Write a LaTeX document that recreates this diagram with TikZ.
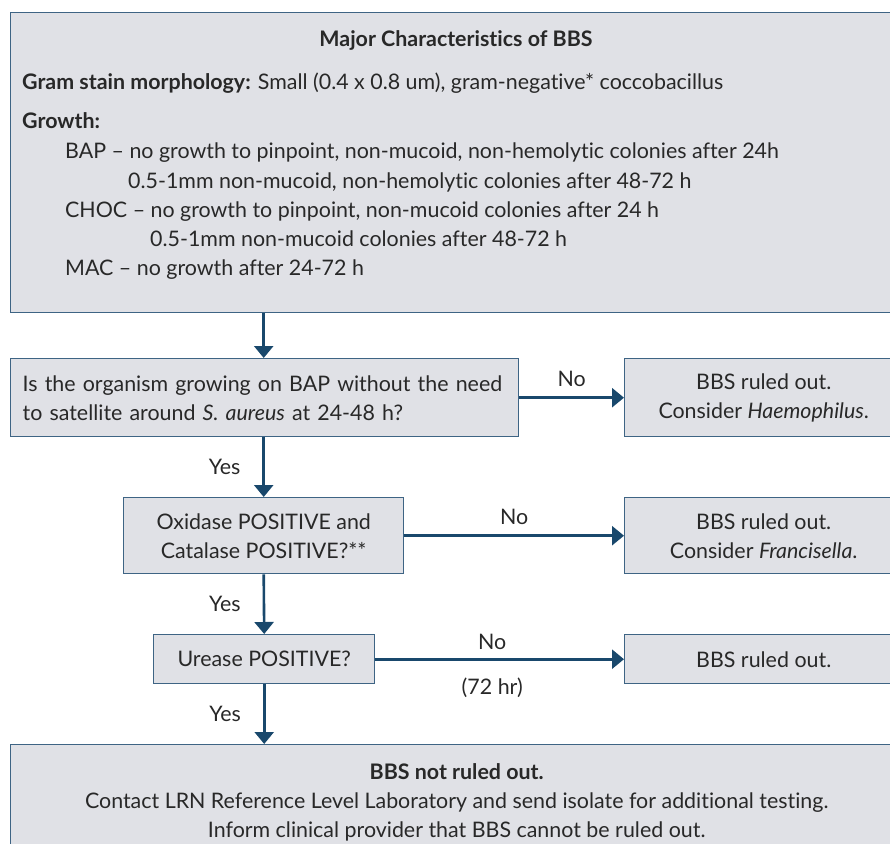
\documentclass[tikz,border=0pt]{standalone}
\usepackage{fontspec}
\setmainfont{Lato}[Ligatures=NoCommon]
\usetikzlibrary{arrows.meta,positioning}
\definecolor{bbsFill}{RGB}{224,225,230}
\definecolor{bbsEdge}{RGB}{62,100,132}
\definecolor{bbsArrow}{RGB}{25,72,108}
\definecolor{bbsText}{RGB}{40,40,40}
\newcommand{\bodyfont}{\fontsize{21.4}{29}\selectfont}

\begin{document}
\begin{tikzpicture}[x=1pt,y=-1pt,
  box/.style={draw=bbsEdge,fill=bbsFill,line width=1.4pt,text=bbsText,font=\bodyfont,anchor=north west},
  txt/.style={text=bbsText,font=\bodyfont,inner sep=0pt,anchor=base west},
  flow/.style={draw=bbsArrow,line width=2.6pt,-{Triangle[width=19pt,length=12pt]}},
  lbl/.style={text=bbsText,font=\bodyfont,inner sep=0pt}]
  \useasboundingbox (0,0) rectangle (890,843);
  \clip (0,0) rectangle (890,843);
  % characteristics box
  \node[box,minimum width=892pt,minimum height=300pt] (chars) at (10,12) {};
  \node[txt,anchor=base,font=\bodyfont\bfseries] (title) at (456,46) {Major Characteristics of BBS};
  \node[txt] (gram) at (22,89) {\textbf{Gram stain morphology:} Small (0.4 x 0.8 um), gram-negative* coccobacillus};
  \node[txt,font=\bodyfont\bfseries] (growth) at (22,128) {Growth:};
  \node[txt] (bap) at (65,158) {BAP – no growth to pinpoint, non-mucoid, non-hemolytic colonies after 24h};
  \node[txt] (bapb) at (128,188) {0.5-1mm non-mucoid, non-hemolytic colonies after 48-72 h};
  \node[txt] (choc) at (65,217) {CHOC – no growth to pinpoint, non-mucoid colonies after 24 h};
  \node[txt] (chocb) at (150,246) {0.5-1mm non-mucoid colonies after 48-72 h};
  \node[txt] (mac) at (65,275) {MAC – no growth after 24-72 h};
  % decision steps
  \node[box,minimum width=508pt,minimum height=78pt,text width=484pt,align=left,inner xsep=12pt] (q1) at (10,358)
    {Is the organism growing on BAP without the need\\to satellite around \textit{S. aureus} at 24-48 h?};
  \node[box,minimum width=278pt,minimum height=78pt,align=center] (r1) at (624,358)
    {BBS ruled out.\\Consider \textit{Haemophilus}.};
  \node[box,minimum width=280pt,minimum height=76pt,align=center] (q2) at (123,497)
    {Oxidase POSITIVE and\\Catalase POSITIVE?**};
  \node[box,minimum width=278pt,minimum height=76pt,align=center] (r2) at (624,497)
    {BBS ruled out.\\Consider \textit{Francisella}.};
  \node[box,minimum width=221pt,minimum height=49pt] (q3) at (153,634) {Urease POSITIVE?};
  \node[box,minimum width=278pt,minimum height=49pt] (r3) at (624,634) {BBS ruled out.};
  \node[box,minimum width=892pt,minimum height=116pt,align=center] (final) at (10,744)
    {\textbf{BBS not ruled out.}\\Contact LRN Reference Level Laboratory and send isolate for additional testing.\\Inform clinical provider that BBS cannot be ruled out.};
  % connectors
  \draw[flow] (chars.south -| q2.north) -- (q1.north -| q2.north);
  \draw[flow] (q1.south -| q2.north) -- node[lbl,midway,left=22pt] {Yes} (q2.north);
  \draw[flow] (q2.south) -- node[lbl,midway,left=22pt] {Yes} (q3.north);
  \draw[flow] (q3.south) -- node[lbl,midway,left=22pt] {Yes} (final.north -| q3.south);
  \draw[flow] (q1.east) -- node[lbl,midway,above=10pt] {No} (r1.west);
  \draw[flow] (q2.east) -- node[lbl,midway,above=10pt] {No} (r2.west);
  \draw[flow] (q3.east) -- node[lbl,pos=0.47,above=8pt] {No} node[lbl,pos=0.47,below=17pt] {(72 hr)} (r3.west);
\end{tikzpicture}
\end{document}
